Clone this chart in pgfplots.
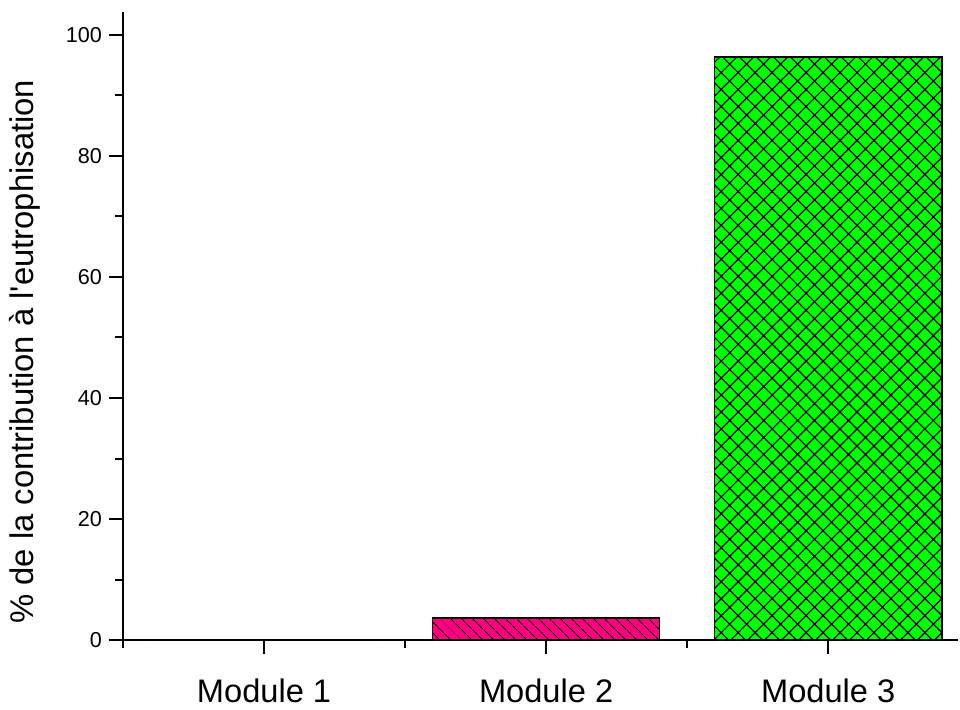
\documentclass[border=0pt]{standalone}
\usepackage{pgfplots}
\pgfplotsset{compat=1.18}
\usepackage{fontspec}
\setmainfont{Liberation Sans}
\usetikzlibrary{patterns.meta}
\definecolor{barpink}{HTML}{FF0080}
\definecolor{bargreen}{HTML}{00FF00}
\begin{document}
\begin{tikzpicture}
\begin{axis}[
  scale only axis,
  width=417.5pt, height=314pt,
  xmin=0.5, xmax=3.46,
  ymin=0, ymax=103.8,
  axis x line=bottom, axis y line=left,
  axis line style={-, line width=1pt},
  tick align=outside,
  tick style={black, line width=1pt},
  major tick length=7pt, minor tick length=4pt,
  xtick={1,2,3},
  xticklabels={Module 1, Module 2, Module 3},
  minor xtick={0.5,1.5,2.5},
  ytick={0,20,40,60,80,100},
  minor ytick={10,30,50,70,90},
  /pgf/number format/assume math mode=true,
  xticklabel style={font=\fontsize{16.3}{19}\selectfont, yshift=-9pt},
  yticklabel style={font=\fontsize{10.8}{13}\selectfont},
  ylabel={\% de la contribution à l\textquotesingle eutrophisation},
  ylabel style={font=\fontsize{16.4}{19}\selectfont, at={(axis description cs:-0.1174,0.459)}, anchor=center},
  clip=false,
]
\addplot[ybar, bar width=0.805, bar shift=0pt, draw=black, line width=0.75pt, fill=white]
  coordinates {(1,0)};
\addplot[ybar, bar width=0.805, bar shift=0pt, draw=black, line width=0.75pt, fill=barpink,
  postaction={pattern={Lines[angle=-45, distance=4pt, line width=0.55pt]}, pattern color=black}]
  coordinates {(2,3.6)};
\addplot[ybar, bar width=0.805, bar shift=0pt, draw=black, line width=0.75pt, fill=bargreen,
  postaction={pattern={Hatch[angle=45, distance=6pt, line width=0.6pt]}, pattern color=black}]
  coordinates {(3,96.4)};
\end{axis}
\pgfresetboundingbox
\path (-61.5pt,-34.5pt) rectangle (418.5pt,320pt);
\end{tikzpicture}
\end{document}
